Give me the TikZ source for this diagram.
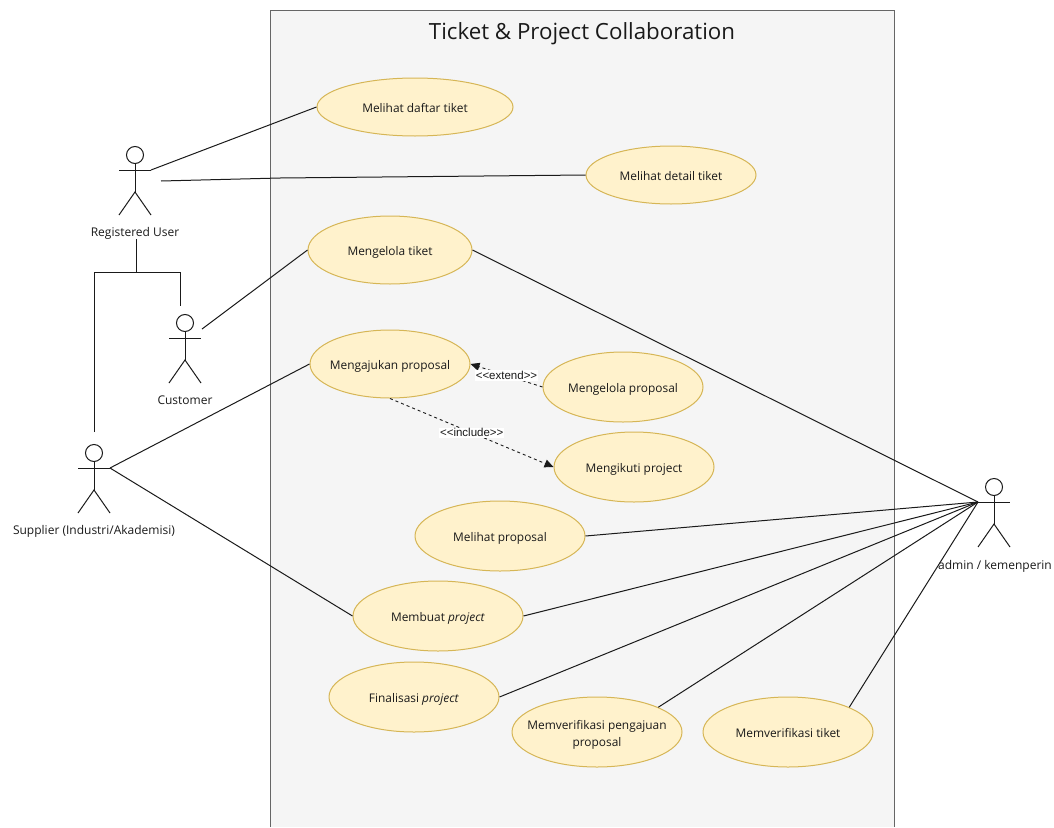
\documentclass[tikz,border=0pt]{standalone}
\usepackage{fontspec}
\setmainfont{Open Sans}
\newfontfamily\edgefont{Liberation Sans}
\usetikzlibrary{shapes.geometric,arrows.meta}
\definecolor{ucfill}{HTML}{FFF2CC}
\definecolor{ucline}{HTML}{D6B656}
\definecolor{framefill}{HTML}{F5F5F5}
\definecolor{frameline}{HTML}{666666}
\definecolor{ink}{HTML}{1A1A1A}
\tikzset{
  usecase/.style={ellipse,draw=ucline,fill=ucfill,line width=1pt,inner sep=-30pt,text=ink,font=\fontsize{11.9}{16.5}\selectfont,align=center,text height=12.2pt,text depth=1.8pt},
  actorlabel/.style={inner sep=0pt,text=ink,font=\fontsize{12}{14}\selectfont},
  assoc/.style={draw=ink,line width=1pt},
  stick/.style={draw=ink,line width=1pt},
  dep/.style={draw=ink,line width=0.9pt,dash pattern=on 3pt off 3pt,-{Triangle[length=9pt,width=8pt]}},
  deplabel/.style={fill=white,inner sep=1pt,text=ink,font=\edgefont\fontsize{11.5}{13}\selectfont},
}
\newcommand{\stickfig}[3]{%
  \node[circle,stick,fill=white,minimum size=17pt,inner sep=0pt] (#1) at (#2,#3) {};
  \coordinate (#1-neck) at (#2,#3+8.5);
  \coordinate (#1-hip) at (#2,#3+37);
  \coordinate (#1-al) at (#2-16,#3+15);
  \coordinate (#1-ar) at (#2+16,#3+15);
  \coordinate (#1-ll) at (#2-16,#3+60);
  \coordinate (#1-lr) at (#2+16,#3+60);
  \draw[stick] (#1-neck) -- (#1-hip);
  \draw[stick] (#1-al) -- (#1-ar);
  \draw[stick] (#1-ll) -- (#1-hip) -- (#1-lr);
}
\begin{document}
\begin{tikzpicture}[x=1pt,y=-1pt]
\useasboundingbox (0,0) rectangle (1054,827);
\fill[framefill] (270,10) rectangle (894,827);
\draw[frameline,line width=1pt] (270,827) -- (270,10) -- (894,10) -- (894,827);
\node[inner sep=0pt,text=ink,font=\fontsize{22.3}{26}\selectfont] (title) at (582,34) {Ticket \& Project Collaboration};

\node[usecase,minimum width=196pt,minimum height=58pt] (daftar) at (415,107) {Melihat daftar tiket};
\node[usecase,minimum width=170pt,minimum height=58pt] (detail) at (671,175) {Melihat detail tiket};
\node[usecase,minimum width=164pt,minimum height=68pt] (kelola) at (390,250) {Mengelola tiket};
\node[usecase,minimum width=160pt,minimum height=68pt] (ajukan) at (390,364) {Mengajukan proposal};
\node[usecase,minimum width=160pt,minimum height=70pt] (kprop) at (623,387) {Mengelola proposal};
\node[usecase,minimum width=160pt,minimum height=70pt] (ikuti) at (634,467) {Mengikuti project};
\node[usecase,minimum width=170pt,minimum height=70pt] (lihat) at (500,536) {Melihat proposal};
\node[usecase,minimum width=170pt,minimum height=70pt] (buat) at (438,616) {Membuat \textit{project}};
\node[usecase,minimum width=170pt,minimum height=70pt] (final) at (414,697) {Finalisasi \textit{project}};
\node[usecase,minimum width=170pt,minimum height=70pt,text height=30.2pt] (vprop) at (597,732) {Memverifikasi pengajuan\\proposal};
\node[usecase,minimum width=170pt,minimum height=70pt] (vtiket) at (788,732) {Memverifikasi tiket};

\stickfig{reg}{135}{155}
\stickfig{cust}{185}{323}
\stickfig{supp}{94}{453}
\stickfig{adm}{994}{487}

\node[actorlabel] (reglabel) at (135,233) {Registered User};
\node[actorlabel] (custlabel) at (185,400) {Customer};
\node[actorlabel] (supplabel) at (94,531) {Supplier (Industri/Akademisi)};
\node[actorlabel] (admlabel) at (995,566) {admin / kemenperin};

\coordinate (regside) at (161,181);
\coordinate (custside) at (202,329);
\coordinate (custtop) at (180,306);
\coordinate (supptop) at (94,432);
\coordinate (split) at (136,272);

\draw[assoc] (reg-ar) -- (daftar.west);
\draw[assoc] (regside) -- (280,178) -- (detail.west);
\draw[assoc] (custside) -- (kelola.west);
\draw[assoc] (supp-ar) -- (ajukan.west);
\draw[assoc] (supp-ar) -- (buat.west);
\draw[assoc] (kelola.east) -- (adm-al);
\draw[assoc] (lihat.east) -- (adm-al);
\draw[assoc] (buat.east) -- (adm-al);
\draw[assoc] (final.east) -- (adm-al);
\draw[assoc] (vprop.22) -- (adm-al);
\draw[assoc] (vtiket.22) -- (adm-al);

\draw[assoc] (136,239) -- (split);
\draw[assoc] (supptop) -- (94,272) -- (180,272) -- (custtop);

\draw[dep] (kprop.west) -- (ajukan.east) node[deplabel,midway] (extl) {{<}{<}extend{>}{>}};
\draw[dep] (ajukan.south) -- (ikuti.west) node[deplabel,pos=0.5] (incl) {{<}{<}include{>}{>}};
\end{tikzpicture}
\end{document}
